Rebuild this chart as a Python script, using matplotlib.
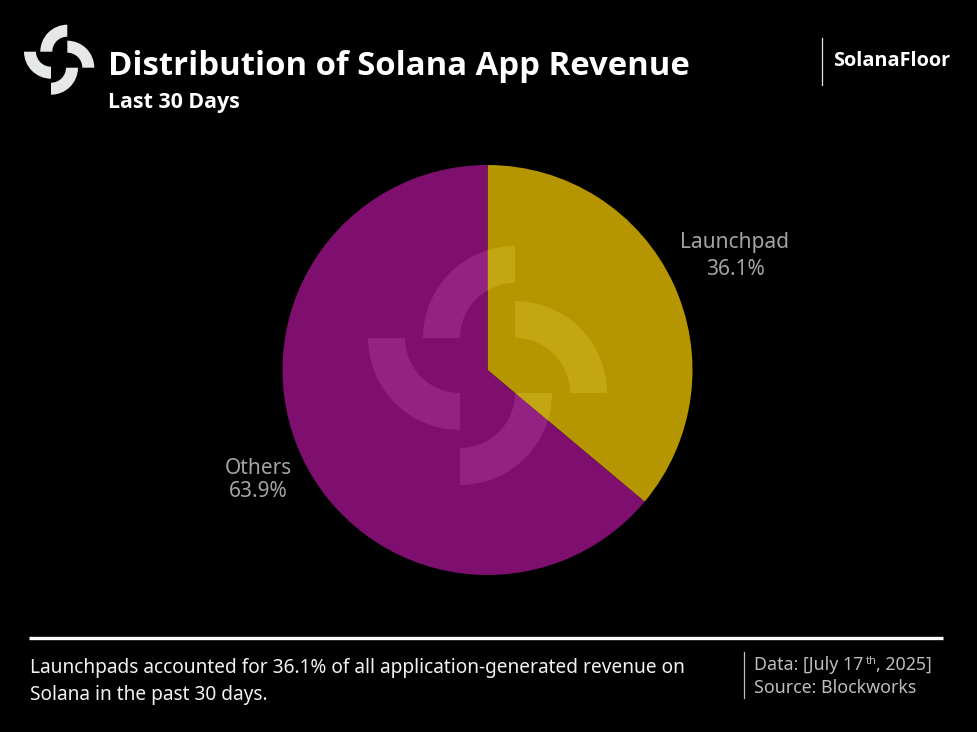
import matplotlib
matplotlib.use("Agg")
import matplotlib.pyplot as plt
from matplotlib.patches import Wedge

labels = ["Launchpad", "Others"]
shares = [36.1, 63.9]
colors = ["#B59500", "#7F0F6E"]
mark_colors = ["#C4A512", "#932383"]

W, H = 977, 732
BOLD = ["Open Sans", "DejaVu Sans"]
plt.rcParams["font.family"] = ["Noto Sans", "DejaVu Sans"]

fig = plt.figure(figsize=(W / 100, H / 100), dpi=100, facecolor="black")


def px(x, y):
    """Pixel position from the top left, as figure fractions."""
    return x / W, 1 - y / H


def put(x, y, s, **kw):
    fig.text(*px(x, y), s, **kw)


# pie
cx, cy, r = 487.5, 370, 205
ax = fig.add_axes([(cx - r) / W, 1 - (cy + r) / H, 2 * r / W, 2 * r / H])
wedges, _ = ax.pie(shares, colors=colors, startangle=90, counterclock=False, radius=1,
                   wedgeprops={"linewidth": 0})
ax.set_xlim(-1, 1)
ax.set_ylim(-1, 1)

# overlay in pixels for logo, rules
ov = fig.add_axes([0, 0, 1, 1], facecolor="none")
ov.set_xlim(0, W)
ov.set_ylim(H, 0)
ov.axis("off")


def logo(centers, r_out, width, color, clip=None):
    # y axis is flipped here, so angles run clockwise on screen
    for (x, y), a in zip(centers, [180, 270, 90, 0]):
        arc = ov.add_patch(Wedge((x, y), r_out, a, a + 90, width=width, facecolor=color,
                                 edgecolor="none"))
        if clip is not None:
            arc.set_clip_path(clip)


logo([(67.3, 51.7), (67.3, 67.7), (51, 51.7), (51, 67.7)], 27, 12, "#E6E7E8")
# watermark, one tint per slice
for wedge, tint in zip(wedges, mark_colors):
    logo([(515, 338), (515, 393), (460, 338), (460, 393)], 92, 37, tint, clip=wedge)

ov.plot([822, 822], [38, 85], color="#E6E6E6", lw=0.9)
ov.plot([29, 943], [637.5, 637.5], color="white", lw=2.4, solid_capstyle="butt")
ov.plot([744, 744], [652, 698], color="#BDBDBD", lw=0.9)

put(108, 75, "Distribution of Solana App Revenue", color="white", fontsize=23.65,
    fontweight="bold", family=BOLD)
put(108, 108, "Last 30 Days", color="white", fontsize=15.4, fontweight="bold", family=BOLD)
put(833, 66, "SolanaFloor", color="white", fontsize=14.3, fontweight="bold", family=BOLD)

grey = "#A3A3A3"
put(735, 248, labels[0], color=grey, fontsize=15, ha="center")
put(735, 275, f"{shares[0]}%", color=grey, fontsize=15, ha="center")
put(258, 474, labels[1], color=grey, fontsize=15, ha="center")
put(258, 497, f"{shares[1]}%", color=grey, fontsize=15, ha="center")

foot = "#F2F2F2"
put(30, 673, "Launchpads accounted for 36.1% of all application-generated revenue on",
    color=foot, fontsize=13.75)
put(30, 700, "Solana in the past 30 days.", color=foot, fontsize=13.75)

src = "#BDBDBD"
put(754, 670, "Data: [July 17", color=src, fontsize=12.8)
put(865.5, 664, "th", color=src, fontsize=8)
put(875.5, 670, ", 2025]", color=src, fontsize=12.8)
put(754, 693, "Source: Blockworks", color=src, fontsize=12.8)

fig.savefig("out.png", dpi=100, facecolor="black")
